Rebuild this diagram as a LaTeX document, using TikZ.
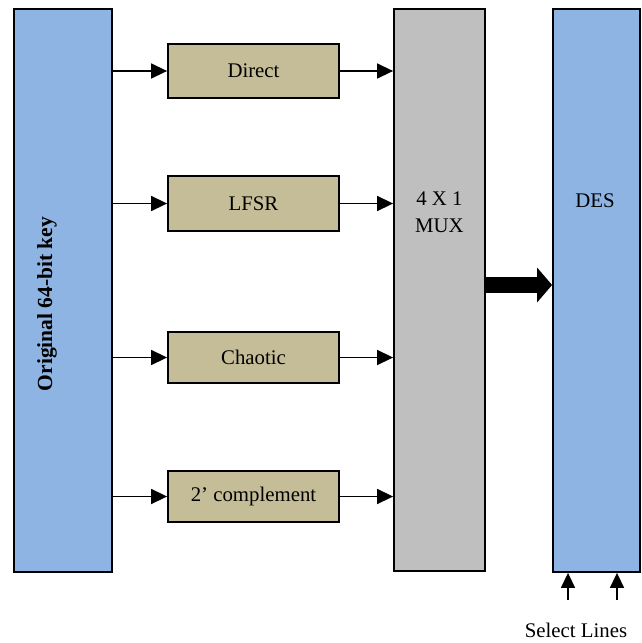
\documentclass[tikz,border=0pt]{standalone}
\usepackage{fontspec}
\setmainfont{Liberation Serif}
\usetikzlibrary{arrows.meta}
\definecolor{keyblue}{HTML}{8EB4E3}
\definecolor{gentan}{HTML}{C4BD97}
\definecolor{muxgray}{HTML}{BFBFBF}
\begin{document}
\begin{tikzpicture}[x=1pt,y=-1pt,
  box/.style={draw=black,line width=1.8pt,rectangle,inner sep=0pt},
  bluebox/.style={box,fill=keyblue},
  genbox/.style={box,fill=gentan,minimum width=171pt,font=\fontsize{20.8}{24}\selectfont},
  muxbox/.style={box,fill=muxgray},
  lbl/.style={inner sep=0pt,font=\fontsize{20.8}{27}\selectfont,align=center},
  link/.style={line width=1.5pt,-{Triangle[length=16pt,width=15pt]}},
  selarrow/.style={line width=1.5pt,-{Triangle[length=15pt,width=14pt]}},
  bigarrow/.style={line width=16pt,-{Triangle[length=15pt,width=34pt]}}]
\useasboundingbox (0,0) rectangle (641,643);

% key source, generators, multiplexer, cipher
\node[bluebox,minimum width=98pt,minimum height=563pt] (key) at (63,290.5) {};
\node[lbl,rotate=90,font=\bfseries\fontsize{21.5}{24}\selectfont] (keylbl) at (47,304) {Original 64-bit key};

\node[genbox,minimum height=54pt] (direct) at (253.5,71) {Direct};
\node[genbox,minimum height=55pt] (lfsr) at (253.5,203.5) {LFSR};
\node[genbox,minimum height=51pt] (chaotic) at (253.5,357.5) {Chaotic};
\node[genbox,minimum height=51pt] (comp) at (253.5,496.5) {2’ complement};

\node[muxbox,minimum width=91pt,minimum height=562pt] (mux) at (439.5,290) {};
\node[lbl] (muxlbl) at (439.5,212) {4 X 1\\MUX};

\node[bluebox,minimum width=87pt,minimum height=563pt] (des) at (596.5,290.5) {};
\node[lbl] (deslbl) at (595,201) {DES};

% key to generators
\foreach \g in {direct,lfsr,chaotic,comp}{
  \draw[link] (key.east |- \g.west) -- (\g.west);
  \draw[link] (\g.east) -- (mux.west |- \g.east);
}

% multiplexer output
\coordinate (bus) at (0,285);
\draw[bigarrow] (mux.east |- bus) -- (des.west |- bus);

% select lines
\coordinate (s1) at (568,600);
\coordinate (s2) at (617,600);
\draw[selarrow] (s1) -- (des.south -| s1);
\draw[selarrow] (s2) -- (des.south -| s2);
\node[lbl] (sel) at (576,630) {Select Lines};
\end{tikzpicture}
\end{document}
